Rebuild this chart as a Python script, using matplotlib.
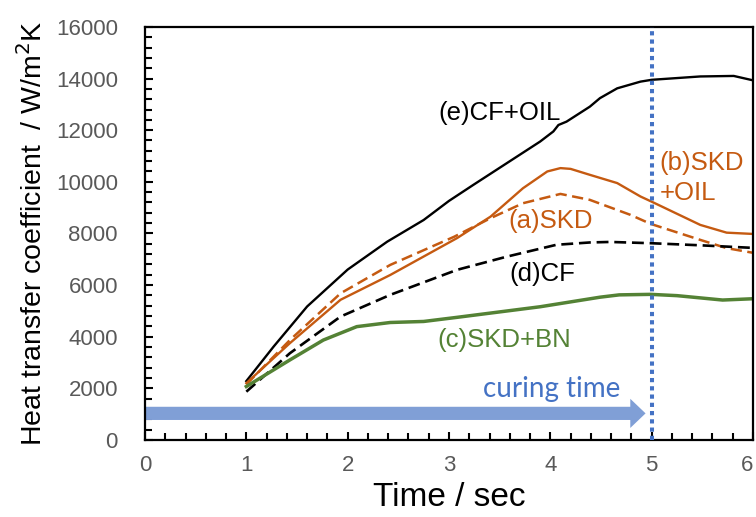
import matplotlib
matplotlib.use("Agg")
import matplotlib.pyplot as plt
from matplotlib.ticker import MultipleLocator

plt.rcParams['font.family'] = ['Liberation Sans', 'DejaVu Sans']

# (e) CF+OIL
t_e = [1.0, 1.27, 1.6, 2.0, 2.39, 2.75, 3.0, 3.24, 3.57, 3.9, 4.03, 4.08, 4.16,
       4.39, 4.49, 4.66, 4.89, 5.0, 5.48, 5.81, 6.0]
h_e = [2280, 3620, 5170, 6600, 7680, 8520, 9260, 9880, 10720, 11560, 11950, 12200, 12330,
       12910, 13240, 13620, 13880, 13950, 14080, 14100, 13930]

# (b) SKD+OIL
t_b = [1.0, 1.43, 1.93, 2.42, 3.08, 3.41, 3.73, 3.97, 4.1, 4.2, 4.39, 4.66, 4.89,
       5.0, 5.48, 5.74, 6.0]
h_b = [2200, 3750, 5430, 6390, 7820, 8650, 9750, 10400, 10530, 10500, 10270, 9950, 9430,
       9230, 8330, 8030, 7980]

# (a) SKD
t_a = [1.0, 1.43, 1.93, 2.42, 3.05, 3.41, 3.73, 4.1, 4.39, 4.79, 4.99, 5.48, 5.74, 6.0]
h_a = [2150, 3870, 5680, 6780, 7870, 8590, 9170, 9530, 9300, 8720, 8370, 7750, 7430, 7250]

# (d) CF
t_d = [1.0, 1.43, 1.93, 2.42, 3.08, 3.57, 4.06, 4.39, 4.59, 5.0, 5.48, 6.0]
h_d = [1870, 3360, 4780, 5620, 6590, 7100, 7560, 7650, 7670, 7620, 7540, 7440]

# (c) SKD+BN
t_c = [1.0, 1.43, 1.76, 2.09, 2.42, 2.75, 3.08, 3.9, 4.49, 4.68, 4.99, 5.25, 5.7, 6.0]
h_c = [2070, 3100, 3870, 4390, 4550, 4590, 4750, 5160, 5530, 5620, 5640, 5590, 5420, 5470]

curing_end = 5.0
arrow_level = 1030
x_ticks = [0, 1, 2, 3, 4, 5, 6]
y_ticks = [0, 2000, 4000, 6000, 8000, 10000, 12000, 14000, 16000]

ORANGE = '#C55A11'
GREEN = '#548235'
BLUE = '#4472C4'
ARROW = '#809FD6'
GRAY = '#595959'
LABEL_SIZE = 18.5
DASH = (0, (4.5, 2.2))

fig = plt.figure(figsize=(7.56, 5.17), dpi=100)
ax = fig.add_axes([0.1918, 0.149, 0.8042, 0.799])

ax.plot(t_e, h_e, color='black', lw=1.7)
ax.plot(t_b, h_b, color=ORANGE, lw=1.7)
ax.plot(t_a, h_a, color=ORANGE, lw=1.8, ls=DASH)
ax.plot(t_d, h_d, color='black', lw=1.9, ls=DASH)
ax.plot(t_c, h_c, color=GREEN, lw=2.5)

ax.axvline(curing_end, color=BLUE, lw=2.9, ls=(0, (1.05, 1.0)), zorder=3)

# curing-time arrow
ax.annotate('', xy=(curing_end - 0.06, arrow_level), xytext=(0.0, arrow_level),
            arrowprops=dict(arrowstyle='simple,head_width=2.1,head_length=1.1,tail_width=0.95',
                            color=ARROW, lw=0, shrinkA=0, shrinkB=0), zorder=2)
ax.text(4.01, 1980, 'curing time', color=BLUE, fontsize=20, ha='center', va='center',
        family=['Lato', 'DejaVu Sans'])

ax.text(3.5, 12670, '(e)CF+OIL', color='black', fontsize=LABEL_SIZE, ha='center', va='center')
ax.text(5.08, 10740, '(b)SKD', color=ORANGE, fontsize=LABEL_SIZE, ha='left', va='center')
ax.text(5.08, 9570, '+OIL', color=ORANGE, fontsize=LABEL_SIZE, ha='left', va='center')
ax.text(4.0, 8490, '(a)SKD', color=ORANGE, fontsize=LABEL_SIZE, ha='center', va='center')
ax.text(3.92, 6430, '(d)CF', color='black', fontsize=LABEL_SIZE, ha='center', va='center')
ax.text(3.55, 3880, '(c)SKD+BN', color=GREEN, fontsize=LABEL_SIZE, ha='center', va='center')

ax.set_xlim(0, 6)
ax.set_ylim(0, 16000)
ax.set_xticks(x_ticks)
ax.set_yticks(y_ticks)
ax.xaxis.set_minor_locator(MultipleLocator(0.2))
ax.yaxis.set_minor_locator(MultipleLocator(400))
ax.tick_params(which='both', direction='in', width=1.5, colors='black', labelcolor=GRAY,
               labelsize=16)
ax.tick_params(which='major', length=6)
ax.tick_params(which='minor', length=5)
ax.tick_params(axis='y', pad=19.5)
ax.tick_params(axis='x', pad=11)
ax.get_xticklabels()[-1].set_horizontalalignment('right')
for s in ax.spines.values():
    s.set_linewidth(1.6)

ax.set_xlabel('Time / sec', fontsize=24, labelpad=4)
ax.set_ylabel('Heat transfer coefficient  / W/m$^2$K', fontsize=20.5, labelpad=6)

fig.savefig('out.png', dpi=100)
